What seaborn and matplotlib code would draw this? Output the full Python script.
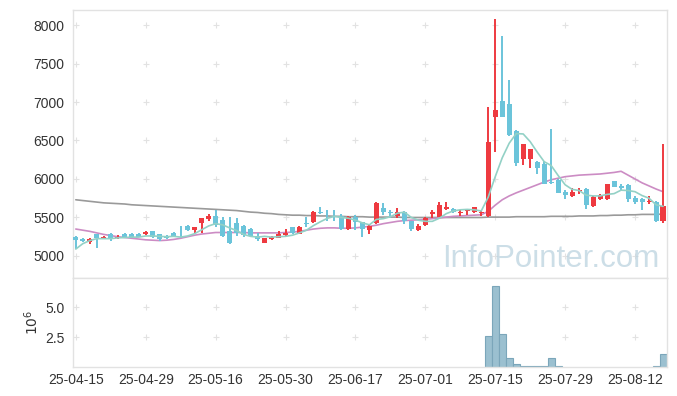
import numpy as np
import pandas as pd
import matplotlib
matplotlib.use("Agg")
import matplotlib.pyplot as plt
import seaborn as sns

# daily candles, 25-04-15 .. 25-08-19 (trading days)
opens = [5250, 5215, 5180, 5280, 5230, 5290, 5240, 5290, 5290, 5285,
         5285, 5320, 5280, 5265, 5295, 5265, 5390, 5340, 5430, 5480,
         5520, 5470, 5330, 5430, 5390, 5350, 5260, 5175, 5215, 5240,
         5275, 5370, 5290, 5430, 5440, 5575, 5525, 5520, 5520, 5350,
         5510, 5435, 5340, 5430, 5620, 5575, 5520, 5570, 5450, 5340,
         5400, 5550, 5510, 5605, 5610, 5555, 5580, 5570, 5555, 5520,
         6800, 7010, 6970, 6620, 6260, 6260, 6220, 6200, 5960, 5990,
         5830, 5785, 5845, 5870, 5650, 5740, 5740, 5970, 5905, 5920,
         5750, 5740, 5700, 5700, 5460]
highs = [5260, 5230, 5240, 5290, 5265, 5300, 5275, 5300, 5300, 5295,
         5320, 5330, 5290, 5275, 5305, 5390, 5400, 5380, 5495, 5540,
         5600, 5500, 5510, 5490, 5400, 5360, 5300, 5240, 5255, 5320,
         5350, 5380, 5385, 5500, 5590, 5630, 5600, 5600, 5540, 5520,
         5530, 5440, 5420, 5700, 5690, 5600, 5620, 5590, 5460, 5420,
         5500, 5600, 5700, 5700, 5620, 5600, 5610, 5640, 5580, 6940,
         8080, 7860, 7290, 6630, 6450, 6390, 6230, 6230, 6650, 6000,
         5860, 5880, 5880, 5880, 5780, 5800, 5940, 5980, 5930, 5930,
         5780, 5750, 5780, 5720, 6450]
lows = [5090, 5180, 5160, 5100, 5220, 5200, 5215, 5240, 5240, 5245,
        5270, 5240, 5200, 5225, 5250, 5240, 5320, 5300, 5300, 5460,
        5380, 5250, 5160, 5260, 5250, 5250, 5200, 5165, 5205, 5230,
        5265, 5290, 5280, 5380, 5430, 5550, 5460, 5460, 5340, 5340,
        5340, 5250, 5290, 5420, 5530, 5490, 5490, 5410, 5320, 5330,
        5390, 5490, 5500, 5600, 5560, 5520, 5530, 5560, 5520, 5510,
        6350, 6800, 6560, 6170, 6180, 6140, 6060, 5930, 5940, 5820,
        5740, 5760, 5810, 5610, 5640, 5730, 5730, 5890, 5850, 5700,
        5680, 5600, 5670, 5440, 5430]
closes = [5210, 5200, 5220, 5230, 5250, 5225, 5250, 5250, 5250, 5250,
          5310, 5250, 5215, 5235, 5260, 5255, 5340, 5370, 5490, 5520,
          5400, 5255, 5170, 5300, 5270, 5265, 5225, 5230, 5250, 5290,
          5300, 5300, 5375, 5420, 5570, 5560, 5515, 5505, 5355, 5510,
          5435, 5345, 5390, 5690, 5570, 5560, 5570, 5455, 5350, 5390,
          5490, 5565, 5660, 5640, 5575, 5565, 5595, 5630, 5565, 6480,
          6890, 6810, 6570, 6210, 6450, 6390, 6140, 5940, 5945, 5820,
          5790, 5830, 5860, 5660, 5770, 5790, 5930, 5900, 5885, 5745,
          5705, 5695, 5715, 5460, 5650]

# moving averages as drawn on the chart
ma_short = [5090, 5160, 5200, 5225, 5225, 5225, 5235, 5240, 5245, 5245,
            5260, 5260, 5255, 5250, 5255, 5245, 5260, 5290, 5340, 5390,
            5420, 5405, 5365, 5330, 5280, 5255, 5245, 5255, 5245, 5250,
            5255, 5270, 5300, 5335, 5395, 5445, 5490, 5515, 5500, 5490,
            5465, 5430, 5405, 5475, 5485, 5510, 5555, 5570, 5500, 5465,
            5450, 5450, 5490, 5550, 5585, 5600, 5605, 5600, 5585, 5765,
            6030, 6275, 6465, 6590, 6585, 6485, 6350, 6225, 6175, 6045,
            5925, 5865, 5850, 5790, 5780, 5780, 5800, 5810, 5855, 5850,
            5835, 5785, 5750, 5665, 5645]
ma_mid = [5350, 5335, 5320, 5300, 5280, 5265, 5250, 5240, 5230, 5220,
          5210, 5205, 5200, 5205, 5215, 5230, 5250, 5270, 5285, 5295,
          5305, 5305, 5305, 5305, 5305, 5300, 5300, 5300, 5300, 5300,
          5305, 5310, 5320, 5335, 5350, 5360, 5365, 5365, 5360, 5360,
          5365, 5375, 5385, 5400, 5420, 5435, 5450, 5460, 5465, 5470,
          5475, 5485, 5495, 5505, 5515, 5520, 5525, 5530, 5535, 5580,
          5660, 5730, 5780, 5820, 5855, 5890, 5925, 5960, 5990, 6010,
          6030, 6040, 6050, 6055, 6060, 6065, 6075, 6085, 6100, 6050,
          6000, 5950, 5910, 5870, 5835]
ma_long = [5730, 5720, 5710, 5700, 5690, 5685, 5680, 5675, 5665, 5660,
           5655, 5650, 5645, 5640, 5635, 5630, 5625, 5620, 5615, 5610,
           5605, 5600, 5595, 5590, 5580, 5570, 5565, 5555, 5550, 5540,
           5535, 5530, 5530, 5525, 5525, 5520, 5520, 5515, 5515, 5510,
           5510, 5510, 5505, 5505, 5505, 5505, 5505, 5500, 5500, 5500,
           5500, 5500, 5500, 5500, 5500, 5500, 5500, 5500, 5500, 5505,
           5505, 5505, 5505, 5510, 5510, 5510, 5510, 5510, 5515, 5515,
           5515, 5515, 5520, 5520, 5520, 5525, 5525, 5530, 5530, 5535,
           5535, 5540, 5540, 5540, 5545]

# volume in millions of shares
volume = [0] * 59 + [2.58, 6.75, 2.78, 0.78, 0.28, 0.08, 0.08, 0.08, 0.08,
                     0.78, 0.08] + [0] * 13 + [0.08, 1.11]

tick_labels = ["25-04-15", "25-04-29", "25-05-16", "25-05-30", "25-06-17",
               "25-07-01", "25-07-15", "25-07-29", "25-08-12"]

UP = "#ee3a40"
DOWN = "#6bc4da"
GRID = "#e2e2e2"
SPINE = "#e2e2e2"

sns.set_style("white")
plt.rcParams["font.family"] = ["Liberation Sans", "DejaVu Sans"]

df = pd.DataFrame({"open": opens, "high": highs, "low": lows, "close": closes,
                   "ma_short": ma_short, "ma_mid": ma_mid, "ma_long": ma_long,
                   "volume": volume})
df["idx"] = np.arange(len(df))
up = df["close"] >= df["open"]
colors = np.where(up, UP, DOWN)

fig = plt.figure(figsize=(6.77, 3.96), dpi=100)
ax = fig.add_axes([73 / 677, 1 - 278 / 396, 594 / 677, 268 / 396])
axv = fig.add_axes([73 / 677, 1 - 367.3 / 396, 594 / 677, 89.3 / 396])

xticks = np.arange(0, len(df), 10)

# price panel
for yy in range(5000, 8001, 500):
    ax.plot(xticks, [yy] * len(xticks), ls="none", marker="+", ms=4.5,
            mew=0.8, color=GRID, zorder=0)

ax.text(0.805, 0.04, "InfoPointer.com", transform=ax.transAxes,
        ha="center", va="baseline", fontsize=22.5, color="#bcd3df",
        alpha=0.75, zorder=1)

sns.lineplot(data=df, x="idx", y="ma_long", ax=ax, color="#9a9a9a",
             lw=1.2, zorder=2)
sns.lineplot(data=df, x="idx", y="ma_mid", ax=ax, color="#cc8cc4",
             lw=1.2, zorder=2)

ax.vlines(df["idx"], df["low"], df["high"], colors=colors, lw=1.4, zorder=3)
body = (df["close"] - df["open"]).abs().clip(lower=10)
ax.bar(df["idx"], body, bottom=df[["open", "close"]].min(axis=1),
       width=0.72, color=colors, linewidth=0, zorder=3)

sns.lineplot(data=df, x="idx", y="ma_short", ax=ax, color="#93d1c6",
             lw=1.2, zorder=4)

ax.set_xlim(-0.4, 84.57)
ax.set_ylim(4714, 8195)
ax.set_yticks(range(5000, 8001, 500))
ax.set_xticks(xticks)
ax.set_xticklabels([])
ax.set_xlabel("")
ax.set_ylabel("")
ax.tick_params(axis="both", length=0, labelsize=10, colors="#333333", pad=6)

# volume panel
for yy in [2.5, 5.0]:
    axv.plot(xticks, [yy] * len(xticks), ls="none", marker="+", ms=4.5,
             mew=0.8, color=GRID, zorder=0)
vol = df[df["volume"] > 0]
axv.bar(vol["idx"], vol["volume"], width=1.0, color="#9bc0d0",
        edgecolor="#7ba6ba", linewidth=0.8, zorder=2)
axv.set_xlim(-0.4, 84.57)
axv.set_ylim(0, 7.45)
axv.set_yticks([2.5, 5.0])
axv.set_yticklabels(["2.5", "5.0"])
axv.set_xticks(xticks)
axv.set_xticklabels(tick_labels)
axv.set_ylabel(r"$10^6$", fontsize=10, color="#333333", labelpad=3)
axv.tick_params(axis="y", length=0, labelsize=10, colors="#333333", pad=6)
axv.tick_params(axis="x", length=2, width=0.8, color=GRID, labelsize=10,
                labelcolor="#333333", pad=2)

for a in (ax, axv):
    for s in a.spines.values():
        s.set_color(SPINE)
        s.set_linewidth(1.0)

fig.savefig("out.png", dpi=100, facecolor="white")
